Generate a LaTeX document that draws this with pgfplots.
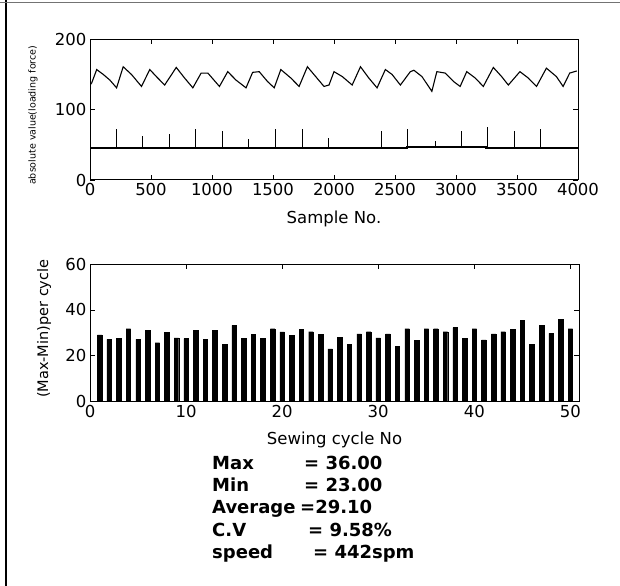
\documentclass[border=0pt]{standalone}
\usepackage{fontspec}
\setmainfont{DejaVu Sans}
\usepackage{pgfplots}
\pgfplotsset{compat=1.18}
\usepackage{pgfplotstable}

\pgfplotstableread{
x y
0 135
14 138
55 157
109 150
163 142
218 131
272 161
340 150
422 133
490 157
544 147
612 135
707 160
775 145
843 131
911 152
966 152
1061 133
1129 154
1197 142
1279 131
1333 153
1387 154
1455 140
1510 131
1564 157
1646 145
1714 133
1782 161
1850 147
1918 133
1959 135
2000 154
2068 147
2149 135
2217 161
2285 145
2353 131
2421 157
2476 150
2544 135
2626 154
2655 156
2721 147
2802 126
2843 154
2911 152
2980 140
3034 133
3088 154
3157 145
3224 133
3306 160
3374 147
3429 135
3524 154
3592 145
3660 133
3741 159
3823 147
3878 133
3932 152
3990 155
}\wave

\pgfplotstableread{
x y
0 45
2600 45
2600 47
3250 47
3250 45
4000 45
}\base

\pgfplotstableread{
x y
217 45
217 72
217 nan
428 45
428 62
428 nan
649 45
649 65
649 nan
867 45
867 72
867 nan
1084 45
1084 70
1084 nan
1298 45
1298 58
1298 nan
1522 45
1522 72
1522 nan
1743 45
1743 73
1743 nan
1954 45
1954 60
1954 nan
2392 45
2392 70
2392 nan
2603 45
2603 73
2603 nan
2830 47
2830 56
2830 nan
3041 47
3041 70
3041 nan
3259 45
3259 75
3259 nan
3480 45
3480 70
3480 nan
3691 45
3691 72
}\spikes

\pgfplotstableread{
x y
1 29.1
2 27.2
3 27.5
4 31.8
5 27.2
6 31.2
7 25.7
8 30.1
9 27.8
10 27.5
11 31.2
12 27.3
13 31.2
14 25.0
15 33.3
16 27.6
17 29.2
18 27.6
19 31.8
20 30.4
21 28.9
22 31.5
23 30.5
24 29.2
25 23.0
26 28.0
27 25.0
28 29.5
29 30.5
30 27.8
31 29.5
32 24.0
33 31.8
34 26.6
35 31.8
36 31.8
37 30.5
38 32.3
39 27.6
40 31.8
41 26.9
42 29.5
43 30.5
44 31.5
45 35.3
46 25.1
47 33.4
48 29.8
49 36.0
50 31.8
}\bars

\pgfplotsset{
  mystyle/.style={
    scale only axis,
    anchor=south west,
    tick align=inside,
    major tick length=5bp,
    tick style={line width=0.8bp, black},
    axis line style={line width=1bp},
    tick label style={font=\fontsize{16.5bp}{19bp}\selectfont},
    label style={font=\fontsize{16.5bp}{19bp}\selectfont},
    /pgf/number format/assume math mode=true,
    /pgf/number format/1000 sep={},
    xlabel style={anchor=center},
    ylabel style={anchor=center},
  }
}

\begin{document}
\begin{tikzpicture}
\useasboundingbox (0,0) rectangle (620bp,586bp);
\draw[line width=1.3bp] (6bp,0) -- (6bp,586bp);
\draw[line width=1bp, black!55] (0,583bp) -- (620bp,583bp);

\begin{axis}[mystyle,
  at={(90bp,406bp)},
  width=488bp, height=140.7bp,
  xmin=0, xmax=4000, ymin=0, ymax=200,
  xtick={0,500,...,4000}, ytick={0,100,200},
  xlabel={Sample No.},
  xlabel style={at={(axis description cs:0.5,-0.277)}},
  ylabel={absolute value(loading force)},
  ylabel style={at={(axis description cs:-0.117,0.46)}, font=\fontsize{9.5bp}{11bp}\selectfont},
  unbounded coords=jump,
]
\addplot[black, line width=1.1bp] table[x=x,y=y] {\wave};
\addplot[black, line width=2.2bp] table[x=x,y=y] {\base};
\addplot[black, line width=0.9bp] table[x=x,y=y] {\spikes};
\end{axis}

\begin{axis}[mystyle,
  at={(90bp,184.3bp)},
  width=489bp, height=137.7bp,
  xmin=0, xmax=50.9, ymin=0, ymax=60,
  xtick={0,10,...,50}, ytick={0,20,40,60},
  xlabel={Sewing cycle No},
  xlabel style={at={(axis description cs:0.5,-0.278)}},
  ylabel={(Max-Min)per cycle},
  ylabel style={at={(axis description cs:-0.094,0.53)}, font=\fontsize{14.5bp}{17bp}\selectfont},
]
\addplot[ybar, bar width=4.5bp, fill=black, draw=black] table[x=x,y=y] {\bars};
\end{axis}

\begin{scope}[font=\fontsize{18bp}{22bp}\selectfont\bfseries]
\node[anchor=base west, inner sep=0] at (212bp,116.5bp) {Max};
\node[anchor=base west, inner sep=0] at (304bp,116.5bp) {= 36.00};
\node[anchor=base west, inner sep=0] at (212bp,94.5bp) {Min};
\node[anchor=base west, inner sep=0] at (304bp,94.5bp) {= 23.00};
\node[anchor=base west, inner sep=0] at (212bp,72.5bp) {Average};
\node[anchor=base west, inner sep=0] at (300bp,72.5bp) {=29.10};
\node[anchor=base west, inner sep=0] at (212bp,49.5bp) {C.V};
\node[anchor=base west, inner sep=0] at (308bp,49.5bp) {= 9.58\%};
\node[anchor=base west, inner sep=0] at (212bp,27.5bp) {speed};
\node[anchor=base west, inner sep=0] at (313bp,27.5bp) {= 442spm};
\end{scope}
\end{tikzpicture}
\end{document}
